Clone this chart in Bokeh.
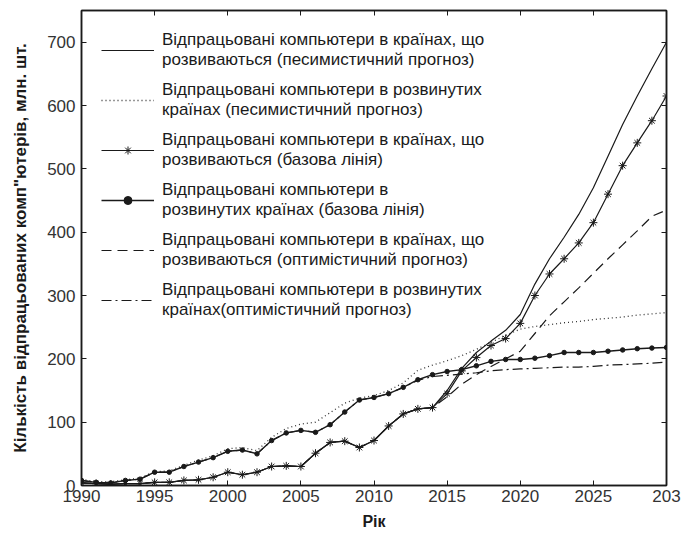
from bokeh.plotting import figure
from bokeh.models import Range1d, LinearAxis, FixedTicker, Legend, CustomLabelingPolicy
from bokeh.embed import file_html
from bokeh.resources import INLINE

years = list(range(1990, 2031))

# Developing countries, pessimistic forecast (solid)
devg_pess = [4, 3, 2, 3, 3, 5, 5, 8, 9, 13, 21, 17, 21, 30, 31, 30, 51, 68, 70, 60,
             71, 94, 113, 121, 123, 150, 185, 210, 228, 245, 270, 318, 358, 392, 428,
             470, 520, 570, 615, 658, 700]
# Developed countries, pessimistic forecast (dotted)
devd_pess = [10, 6, 6, 9, 12, 22, 23, 32, 40, 47, 58, 60, 55, 76, 90, 97, 100, 115, 130, 138,
             142, 150, 162, 182, 190, 197, 205, 215, 226, 237, 247, 251, 254, 257, 259,
             262, 264, 266, 269, 271, 273]
# Developing countries, baseline (asterisk)
devg_base = [4, 3, 2, 3, 3, 5, 5, 8, 9, 13, 21, 17, 21, 30, 31, 30, 51, 68, 70, 60,
             71, 94, 113, 121, 123, 145, 181, 202, 221, 232, 256, 300, 334, 358, 383,
             415, 460, 505, 541, 576, 615]
# Developed countries, baseline (dots)
devd_base = [8, 5, 4, 8, 10, 21, 21, 30, 37, 44, 54, 56, 50, 71, 83, 87, 84, 96, 116, 135,
             139, 145, 155, 167, 175, 180, 183, 189, 196, 199, 199, 201, 205, 210, 210,
             210, 212, 214, 216, 217, 218]
# Developing countries, optimistic forecast (dashed)
devg_opt = [4, 3, 2, 3, 3, 5, 5, 8, 9, 13, 21, 17, 21, 30, 31, 30, 51, 68, 70, 60,
            71, 94, 113, 121, 123, 140, 160, 175, 188, 200, 212, 240, 268, 290, 312,
            335, 358, 380, 402, 425, 435]
# Developed countries, optimistic forecast (dash-dot)
devd_opt = [8, 5, 4, 8, 10, 21, 21, 30, 37, 44, 54, 56, 50, 71, 83, 87, 84, 96, 116, 135,
            139, 145, 155, 166, 172, 174, 176, 178, 181, 183, 184, 185, 186, 187, 187,
            188, 190, 191, 192, 193, 195]

labels = [
    "Відпрацьовані компьютери в країнах, що\nрозвиваються (песимистичний прогноз)",
    "Відпрацьовані компьютери в розвинутих\nкраїнах (песимистичний прогноз)",
    "Відпрацьовані компьютери в країнах, що\nрозвиваються (базова лінія)",
    "Відпрацьовані компьютери в\nрозвинутих країнах (базова лінія)",
    "Відпрацьовані компьютери в країнах, що\nрозвиваються (оптимістичний прогноз)",
    "Відпрацьовані компьютери в розвинутих\nкраїнах(оптимістичний прогноз)",
]
x_ticks = [1990, 1995, 2000, 2005, 2010, 2015, 2020, 2025, 2030]
x_tick_labels = {2030: "203"}
y_ticks = [0, 100, 200, 300, 400, 500, 600, 700]
x_title = "Рік"
y_title = "Кількість відпрацьованих комп\"ютерів, млн. шт."

FONT = "Liberation Sans"
INK = "#1a1a1a"

p = figure(width=684, height=535, x_range=Range1d(1990, 2030), y_range=Range1d(0, 750),
           output_backend="svg", toolbar_location=None,
           min_border_left=81, min_border_right=18, min_border_top=10, min_border_bottom=50)
p.xgrid.visible = False
p.ygrid.visible = False
p.outline_line_color = INK
p.outline_line_width = 1.5
p.background_fill_color = "white"
p.border_fill_color = "white"

r1 = p.line(years, devg_pess, line_color=INK, line_width=1.2)
r2 = p.line(years, devd_pess, line_color="#333333", line_width=1.3, line_dash="1 3")
r3a = p.line(years, devg_base, line_color=INK, line_width=1.2)
r3b = p.scatter(years, devg_base, marker="asterisk", size=8, line_color=INK, line_width=1)
r4a = p.line(years, devd_base, line_color=INK, line_width=1.4)
r4b = p.scatter(years, devd_base, marker="circle", size=4.5, fill_color=INK, line_color=INK)
r5 = p.line(years, devg_opt, line_color=INK, line_width=1.2, line_dash="10 6")
r6 = p.line(years, devd_opt, line_color=INK, line_width=1.2, line_dash="10 4 2 4")

legend = Legend(items=[
    (labels[0], [r1]),
    (labels[1], [r2]),
    (labels[2], [r3a, r3b]),
    (labels[3], [r4a, r4b]),
    (labels[4], [r5]),
    (labels[5], [r6]),
], location="top_left")
legend.label_text_font = FONT
legend.label_text_font_size = "17px"
legend.label_text_color = INK
legend.label_text_line_height = 1.15
legend.glyph_width = 53
legend.glyph_height = 20
legend.label_standoff = 8
legend.spacing = 10
legend.margin = 10
legend.padding = 10
legend.border_line_alpha = 0
legend.background_fill_color = "white"
legend.background_fill_alpha = 1
p.add_layout(legend, "center")

for ax in (p.xaxis[0], p.yaxis[0]):
    ax.axis_line_color = INK
    ax.axis_line_width = 1.5
    ax.major_tick_line_color = INK
    ax.major_tick_in = 5
    ax.major_tick_out = 0
    ax.minor_tick_line_color = None
    ax.major_label_text_font = FONT
    ax.major_label_text_font_size = "17px"
    ax.major_label_text_color = "#333333"
    ax.axis_label_text_font = FONT
    ax.axis_label_text_font_style = "bold"
    ax.axis_label_text_color = INK

p.xaxis.ticker = FixedTicker(ticks=x_ticks)
p.xaxis.major_label_overrides = x_tick_labels
p.xaxis.major_label_standoff = 4
p.xaxis.axis_label = x_title
p.xaxis.axis_label_text_font_size = "16px"
p.xaxis.axis_label_standoff = 8

p.yaxis.ticker = FixedTicker(ticks=y_ticks)
p.yaxis.major_label_standoff = 6
p.yaxis.axis_label = y_title
p.yaxis.axis_label_text_font_size = "17px"
p.yaxis.axis_label_standoff = 14

hide_all = CustomLabelingPolicy(code="""
for (const i of indices) { indices.unset(i) }
return indices
""")

top = LinearAxis(ticker=FixedTicker(ticks=x_ticks))
right = LinearAxis(ticker=FixedTicker(ticks=y_ticks))
for ax in (top, right):
    ax.axis_line_color = INK
    ax.axis_line_width = 1.5
    ax.major_tick_line_color = INK
    ax.major_tick_in = 5
    ax.major_tick_out = 0
    ax.minor_tick_line_color = None
    ax.major_label_text_font_size = "1px"
    ax.major_label_standoff = 0
    ax.major_label_policy = hide_all
p.add_layout(top, "above")
p.add_layout(right, "right")

open("out.html", "w").write(file_html(p, INLINE))
